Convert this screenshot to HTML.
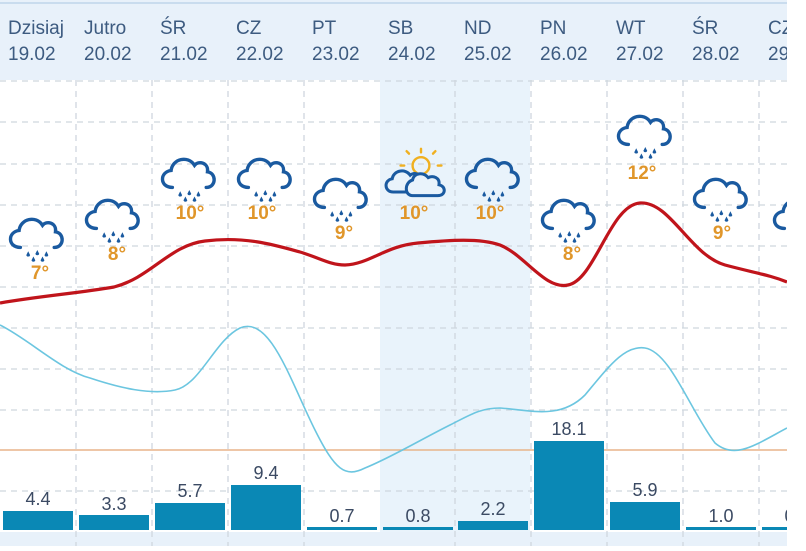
<!DOCTYPE html>
<html><head><meta charset="utf-8"><style>
body{margin:0;width:806px;height:546px;overflow:hidden;background:#fff;font-family:"Liberation Sans",sans-serif;}
</style></head><body>
<svg width="806" height="546" xmlns="http://www.w3.org/2000/svg" font-family="Liberation Sans, sans-serif">
<defs>
<g id="cl">
<path d="M-12,8 C-22,8 -22,-4 -13,-5 C-12,-14 0,-17 5,-9 C8,-13 16,-11 15,-4 C22,-3 22,8 14,8" fill="none" stroke="#1a5aa0" stroke-width="2.6" stroke-linecap="round"/>
<path d="M-6,11 l-1.5,3 a1.6,1.6 0 0 0 3,0z M1,10 l-1.5,3 a1.6,1.6 0 0 0 3,0z M8,11 l-1.5,3 a1.6,1.6 0 0 0 3,0z M-2,15 l-1.5,3 a1.6,1.6 0 0 0 3,0z M5,15 l-1.5,3 a1.6,1.6 0 0 0 3,0z" fill="#1a5aa0"/>
</g>
<clipPath id="cp"><rect x="0" y="0" width="787" height="546"/></clipPath>
</defs>
<g clip-path="url(#cp)">
<rect x="0" y="0" width="806" height="80" fill="#e8f1fa"/>
<rect x="0" y="2" width="806" height="2" fill="#c9dcee"/>
<rect x="380" y="80" width="150" height="452" fill="#e9f3fb"/>
<rect x="0" y="532" width="787" height="14" fill="#e8f1fa"/>
<g stroke="#cfd6de" stroke-width="1.3" stroke-dasharray="6,5">
<line x1="0" y1="81" x2="787" y2="81"/><line x1="0" y1="122" x2="787" y2="122"/><line x1="0" y1="164" x2="787" y2="164"/><line x1="0" y1="205" x2="787" y2="205"/><line x1="0" y1="246" x2="787" y2="246"/><line x1="0" y1="287" x2="787" y2="287"/><line x1="0" y1="328" x2="787" y2="328"/><line x1="0" y1="369" x2="787" y2="369"/><line x1="0" y1="410" x2="787" y2="410"/><line x1="0" y1="491" x2="787" y2="491"/>
<line x1="76" y1="80" x2="76" y2="546"/><line x1="152" y1="80" x2="152" y2="546"/><line x1="228" y1="80" x2="228" y2="546"/><line x1="304" y1="80" x2="304" y2="546"/><line x1="455" y1="80" x2="455" y2="546"/><line x1="531" y1="80" x2="531" y2="546"/><line x1="607" y1="80" x2="607" y2="546"/><line x1="683" y1="80" x2="683" y2="546"/><line x1="759" y1="80" x2="759" y2="546"/>
</g>
<line x1="0" y1="450" x2="787" y2="450" stroke="#e8b48a" stroke-width="1.5"/>
<g fill="#3d5b80" font-size="19">
<text x="8" y="34">Dzisiaj</text><text x="8" y="60">19.02</text>
<text x="84" y="34">Jutro</text><text x="84" y="60">20.02</text>
<text x="160" y="34">ŚR</text><text x="160" y="60">21.02</text>
<text x="236" y="34">CZ</text><text x="236" y="60">22.02</text>
<text x="312" y="34">PT</text><text x="312" y="60">23.02</text>
<text x="388" y="34">SB</text><text x="388" y="60">24.02</text>
<text x="464" y="34">ND</text><text x="464" y="60">25.02</text>
<text x="540" y="34">PN</text><text x="540" y="60">26.02</text>
<text x="616" y="34">WT</text><text x="616" y="60">27.02</text>
<text x="692" y="34">ŚR</text><text x="692" y="60">28.02</text>
<text x="768" y="34">CZ</text><text x="768" y="60">29.02</text>
</g>
<g fill="#0a88b5">
<rect x="3" y="511" width="70" height="19"/><rect x="79" y="515" width="70" height="15"/><rect x="155" y="503" width="70" height="27"/><rect x="231" y="485" width="70" height="45"/><rect x="307" y="527" width="70" height="3"/><rect x="383" y="527" width="70" height="3"/><rect x="458" y="521" width="70" height="9"/><rect x="534" y="441" width="70" height="89"/><rect x="610" y="502" width="70" height="28"/><rect x="686" y="527" width="70" height="3"/><rect x="762" y="527" width="25" height="3"/>
</g>
<g fill="#3b4a63" font-size="18" text-anchor="middle">
<text x="38" y="505">4.4</text><text x="114" y="510">3.3</text><text x="190" y="497">5.7</text><text x="266" y="479">9.4</text><text x="342" y="522">0.7</text><text x="418" y="522">0.8</text><text x="493" y="515">2.2</text><text x="569" y="435">18.1</text><text x="645" y="496">5.9</text><text x="721" y="522">1.0</text><text x="797" y="522">0.5</text>
</g>
<path d="M0,325 C30,340 60,370 90,378 C120,388 150,395 175,390 C200,385 215,340 240,328 C270,315 290,380 315,430 C335,470 345,478 365,468 C390,458 420,440 450,425 C470,415 480,408 500,408 C530,410 560,420 585,395 C610,365 625,345 645,348 C670,352 690,410 715,443 C735,460 755,445 787,428" fill="none" stroke="#6cc6e0" stroke-width="1.6"/>
<path d="M0,303 C40,296 80,293 114,287 C150,278 170,245 205,241 C245,236 275,245 300,252 C320,258 330,265 345,265 C370,264 385,246 418,243 C450,240 480,238 500,245 C525,255 545,290 568,285 C595,280 610,205 640,203 C670,201 690,255 725,265 C755,273 770,275 787,282" fill="none" stroke="#c0141b" stroke-width="3.2"/>
<use href="#cl" transform="translate(36,237) scale(1.3)"/><use href="#cl" transform="translate(112,218) scale(1.3)"/><use href="#cl" transform="translate(188,177) scale(1.3)"/><use href="#cl" transform="translate(264,177) scale(1.3)"/><use href="#cl" transform="translate(340,197) scale(1.3)"/><use href="#cl" transform="translate(492,177) scale(1.3)"/><use href="#cl" transform="translate(568,218) scale(1.3)"/><use href="#cl" transform="translate(644,134) scale(1.3)"/><use href="#cl" transform="translate(720,197) scale(1.3)"/><use href="#cl" transform="translate(800,218) scale(1.3)"/>
<g transform="translate(415,180) scale(1.2) translate(-415,-180)">
<circle cx="420" cy="168" r="7" fill="none" stroke="#f0b020" stroke-width="2"/>
<g stroke="#f0b020" stroke-width="2" stroke-linecap="round"><line x1="420" y1="154" x2="420" y2="157"/><line x1="430" y1="158" x2="432" y2="156"/><line x1="434" y1="168" x2="437" y2="168"/><line x1="410" y1="158" x2="408" y2="156"/><line x1="406" y1="168" x2="403" y2="168"/></g>
<path d="M397,190 C389,190 389,180 396,179 C397,172 407,170 411,176 C414,173 420,175 420,180 C426,180 426,190 420,190 Z" fill="#e9f3fb" stroke="#1a5aa0" stroke-width="2.5"/>
<path d="M413,180 C414,174 422,173 426,178 C430,176 436,178 435,184 C441,185 441,193 434,193 L413,193 C406,193 406,182 413,180 Z" fill="#e9f3fb" stroke="#1a5aa0" stroke-width="2.5"/>
</g>
<g fill="#e0962a" font-size="19" font-weight="bold" text-anchor="middle">
<text x="40" y="279">7°</text><text x="117" y="260">8°</text><text x="190" y="219">10°</text><text x="262" y="219">10°</text><text x="344" y="239">9°</text><text x="414" y="219">10°</text><text x="490" y="219">10°</text><text x="572" y="260">8°</text><text x="642" y="179">12°</text><text x="722" y="239">9°</text>
</g>
</g>
</svg>
</body></html>
